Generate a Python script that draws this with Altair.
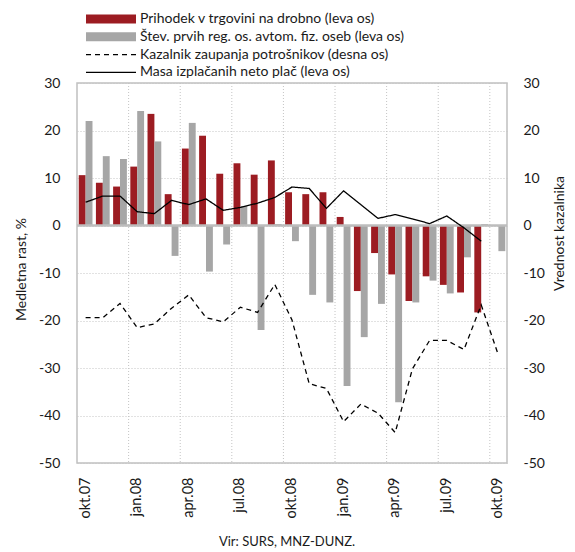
import altair as alt
import pandas as pd

months = ["okt.07", "nov.07", "dec.07", "jan.08", "feb.08", "mar.08", "apr.08",
          "maj.08", "jun.08", "jul.08", "avg.08", "sep.08", "okt.08", "nov.08",
          "dec.08", "jan.09", "feb.09", "mar.09", "apr.09", "maj.09", "jun.09",
          "jul.09", "avg.09", "sep.09", "okt.09"]

retail = [10.6, 9.0, 8.2, 12.4, 23.5, 6.6, 16.2, 18.9, 10.9, 13.1, 10.7, 13.7,
          7.0, 6.6, 7.0, 1.8, -13.8, -5.8, -10.3, -15.9, -10.7, -12.5, -14.1,
          -18.3, None]
cars = [22.0, 14.6, 14.0, 24.1, 17.7, -6.4, 21.6, -9.7, -4.0, 4.1, -22.0, 0.3,
        -3.3, -14.6, -16.2, -33.8, -23.5, -16.5, -37.2, -16.2, -11.6, -14.3,
        -6.7, 0.3, -5.4]
wages = [4.9, 6.2, 6.2, 2.9, 2.5, 5.3, 4.4, 5.6, 3.2, 3.8, 4.7, 5.9, 8.1, 7.8,
         3.6, 7.3, 4.4, 1.5, 2.3, 1.4, 0.4, 2.0, -0.5, -3.3, None]
confidence = [-19.4, -19.4, -16.4, -21.5, -20.7, -17.4, -14.6, -19.4, -20.3,
              -17.2, -18.3, -12.4, -19.9, -33.3, -34.3, -41.3, -37.6, -39.5,
              -43.6, -30.2, -24.2, -24.2, -26.1, -16.7, -27.3]

xticks = ["okt.07", "jan.08", "apr.08", "jul.08", "okt.08", "jan.09", "apr.09",
          "jul.09", "okt.09"]
grid_months = xticks[1:]
yticks = list(range(-50, 31, 10))

S_RETAIL = "Prihodek v trgovini na drobno (leva os)"
S_CARS = "Štev. prvih reg. os. avtom. fiz. oseb (leva os)"
S_CONF = "Kazalnik zaupanja potrošnikov  (desna os)"
S_WAGES = "Masa izplačanih neto plač (leva os)"
SOURCE = "Vir: SURS, MNZ-DUNZ."

RED = "#9c1c22"
GRAY = "#a6a6a6"
FONT = "Lato"
TXT = "#1a1a1a"
HYPHEN_LABEL = "datum.value < 0 ? '-' + abs(datum.value) : '' + datum.value"

bars_df = pd.DataFrame({
    "month": months * 2,
    "series": [S_RETAIL] * len(months) + [S_CARS] * len(months),
    "value": retail + cars,
})
wages_df = pd.DataFrame({"month": months, "series": S_WAGES, "value": wages})
conf_df = pd.DataFrame({"month": months, "series": S_CONF, "value": confidence})
grid_df = pd.DataFrame({"month": grid_months})
zero_df = pd.DataFrame({"value": [0]})
src_df = pd.DataFrame({"t": [SOURCE]})

xscale = alt.Scale(domain=months, paddingInner=0.2, paddingOuter=0.1)
yscale = alt.Scale(domain=[-50, 30], nice=False, zero=False)

x_axis = alt.Axis(values=xticks, labelAngle=270, labelFontSize=14.5, labelPadding=14,
                  ticks=False, domain=False, grid=False, title=None,
                  labelFont=FONT, labelColor=TXT)
left_axis = alt.Axis(values=yticks, labelFontSize=14, labelPadding=17, ticks=False,
                     domain=False, grid=True, gridDash=[1, 2], gridColor="#c4c4c4",
                     labelFont=FONT, labelColor=TXT, labelExpr=HYPHEN_LABEL,
                     title="Medletna rast, %", titleFont=FONT, titleFontSize=14,
                     titleFontWeight="normal", titleColor=TXT, titleAngle=270,
                     titleX=-56, titleY=186, titleAlign="center",
                     titleBaseline="middle")
right_axis = alt.Axis(orient="right", values=yticks, labelFontSize=14,
                      labelPadding=16, ticks=False, domain=False, grid=False,
                      labelFont=FONT, labelColor=TXT, labelExpr=HYPHEN_LABEL,
                      title="Vrednost kazalnika", titleFont=FONT, titleFontSize=14,
                      titleFontWeight="normal", titleColor=TXT, titleAngle=270,
                      titleX=52, titleY=150, titleAlign="center",
                      titleBaseline="middle")

X = alt.X("month:N", scale=xscale, axis=x_axis)

color_legend = alt.Legend(title=None, orient="none", legendX=27, legendY=-71,
                          symbolType="M-5,-0.9H5V0.9H-5Z", symbolSize=100,
                          symbolStrokeWidth=0, labelFont=FONT, labelFontSize=14,
                          labelColor=TXT, labelOffset=22, rowPadding=3.7,
                          padding=0, labelLimit=400)
dash_legend = alt.Legend(title=None, orient="none", legendX=27, legendY=-35.4,
                         symbolType="M-5,0H5", symbolSize=100,
                         symbolStrokeWidth=1.3, symbolStrokeColor="black",
                         symbolFillColor="transparent",
                         labelFont=FONT, labelFontSize=14, labelColor=TXT,
                         labelOffset=22, rowPadding=3.7, padding=0, labelLimit=400)
dash_scale = alt.Scale(domain=[S_CONF, S_WAGES], range=[[5, 4], [1, 0]])

vgrid = alt.Chart(grid_df).mark_rule(color="#c4c4c4", strokeDash=[1, 2],
                                     strokeWidth=1, xOffset=-1.7).encode(
    x=alt.X("month:N", scale=xscale, axis=x_axis, bandPosition=0)
)

bars = alt.Chart(bars_df).mark_bar().encode(
    x=X,
    xOffset=alt.XOffset("series:N", sort=[S_RETAIL, S_CARS],
                        scale=alt.Scale(domain=[S_RETAIL, S_CARS],
                                        paddingInner=0, paddingOuter=0)),
    y=alt.Y("value:Q", scale=yscale, axis=left_axis),
    color=alt.Color("series:N", scale=alt.Scale(domain=[S_RETAIL, S_CARS],
                                                range=[RED, GRAY]),
                    legend=color_legend),
)

zero = alt.Chart(zero_df).mark_rule(color="#bdbdbd", strokeWidth=2.5).encode(
    y=alt.Y("value:Q", scale=yscale, axis=left_axis)
)

wage_line = alt.Chart(wages_df).mark_line(color="black", strokeWidth=1.3).encode(
    x=X,
    y=alt.Y("value:Q", scale=yscale, axis=left_axis),
    strokeDash=alt.StrokeDash("series:N", scale=dash_scale, legend=dash_legend),
)

source = alt.Chart(src_df).mark_text(font=FONT, fontSize=13, color=TXT).encode(
    text="t:N", x=alt.value(210), y=alt.value(459)
)

conf_line = alt.Chart(conf_df).mark_line(color="black", strokeWidth=1.3).encode(
    x=X,
    y=alt.Y("value:Q", scale=yscale, axis=right_axis),
    strokeDash=alt.StrokeDash("series:N", scale=dash_scale, legend=dash_legend),
)

left = alt.layer(vgrid, bars, zero, wage_line, source)
chart = alt.layer(left, conf_line).resolve_scale(y="independent").properties(
    width=430, height=380,
    autosize=alt.AutoSizeParams(type="none"),
    padding={"left": 69, "top": 75, "right": 60, "bottom": 86},
).configure_view(stroke="#c0c0c0", strokeWidth=1.5)

chart.save("out.html", embed_options={"renderer": "svg", "actions": False})
